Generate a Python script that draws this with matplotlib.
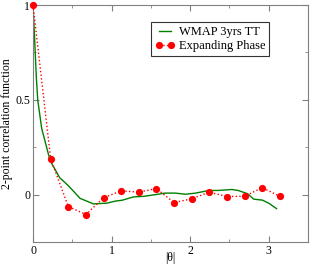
import matplotlib
matplotlib.use("Agg")
import matplotlib.pyplot as plt
import numpy as np

# WMAP 3yrs TT curve
wmap_x = [0.0, 0.013, 0.042, 0.06, 0.11, 0.217, 0.34, 0.45, 0.6, 0.77, 0.94,
          1.05, 1.13, 1.28, 1.41, 1.56, 1.68, 1.81, 1.94, 2.07, 2.24, 2.36,
          2.53, 2.61, 2.73, 2.81, 2.92, 3.0, 3.1]
wmap_y = [1.0, 0.89, 0.62, 0.5, 0.35, 0.18, 0.089, 0.047, -0.02, -0.049, -0.045,
          -0.034, -0.03, -0.012, -0.009, 0.0, 0.008, 0.008, 0.002, 0.008, 0.022, 0.022,
          0.027, 0.022, 0.005, -0.024, -0.029, -0.045, -0.074]

# expanding phase points, 15 angles from 0 to pi
exp_x = np.linspace(0, np.pi, 15)
exp_y = [1.0, 0.19, -0.063, -0.105, -0.017, 0.02, 0.013, 0.032, -0.042,
         -0.022, 0.013, -0.01, -0.009, 0.037, -0.009]

plt.rcParams['font.family'] = ['Liberation Serif', 'DejaVu Serif']

fig = plt.figure(figsize=(3.1, 2.67), dpi=100)
ax = fig.add_axes([0.1065, 0.0936, 0.887, 0.8874])

ax.plot(wmap_x, wmap_y, color='#008000', lw=1.0, label='WMAP 3yrs TT')
ax.plot(exp_x, exp_y, color='red', ls=':', lw=1.0, marker='o', ms=5.2,
        markeredgewidth=0, label='Expanding Phase', clip_on=False, zorder=3)

ax.set_xlim(0, 3.5)
ax.set_ylim(-0.2, 1.0)
ax.set_xticks([0, 1, 2, 3])
ax.set_xticks([0.5, 1.5, 2.5, 3.5], minor=True)
ax.set_yticks([0, 0.5, 1])
ax.set_yticklabels(['0', '0.5', '1'])
ax.set_yticks([-0.25, 0.25, 0.75], minor=True)
ax.tick_params(which='both', direction='in', top=True, right=True,
               labelsize=8.5, color='#808080', pad=2)
ax.tick_params(which='major', length=4)
ax.tick_params(which='minor', length=2)
for s in ax.spines.values():
    s.set_color('#808080')

ax.set_xlabel('|θ|', fontsize=8.5, va='center')
ax.xaxis.set_label_coords(0.5, -0.068)
ax.set_ylabel('2-point correlation function', fontsize=8.5, labelpad=2)

leg = ax.legend(loc='upper right', bbox_to_anchor=(0.858, 0.928), fontsize=9,
                numpoints=2, frameon=True, fancybox=False, handlelength=1.6,
                borderpad=0.3, labelspacing=0.2, handletextpad=0.3,
                borderaxespad=0)
leg.get_frame().set_edgecolor('black')
leg.get_frame().set_linewidth(0.8)

fig.savefig('out.png', dpi=100)
